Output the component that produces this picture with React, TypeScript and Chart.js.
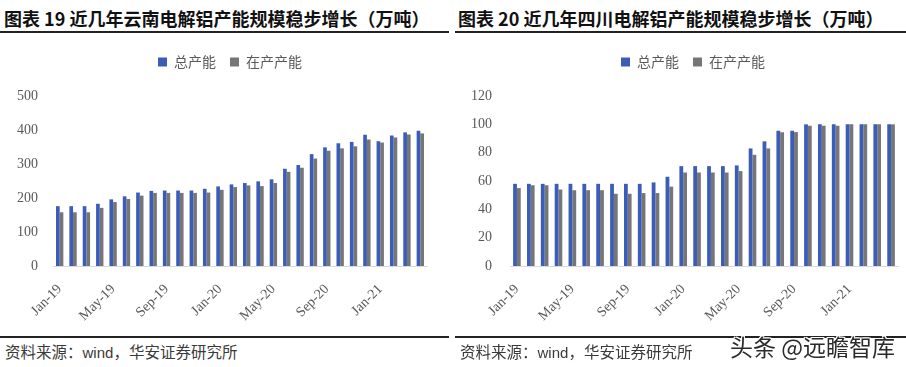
import React, { useEffect, useRef } from "react";
import { Chart, registerables } from "chart.js";
Chart.register(...registerables);

const months = [
  "Jan-19", "Feb-19", "Mar-19", "Apr-19", "May-19", "Jun-19", "Jul-19", "Aug-19", "Sep-19", "Oct-19", "Nov-19", "Dec-19",
  "Jan-20", "Feb-20", "Mar-20", "Apr-20", "May-20", "Jun-20", "Jul-20", "Aug-20", "Sep-20", "Oct-20", "Nov-20", "Dec-20",
  "Jan-21", "Feb-21", "Mar-21", "Apr-21",
];
const seriesNames = ["总产能", "在产产能"];

const yunnanTotal = [176, 176, 176, 183, 196, 205, 216, 221, 222, 222, 222, 227, 234, 240, 244, 249, 255, 286, 297, 329, 349, 361, 365, 386, 367, 384, 393, 398];
const yunnanOperating = [158, 158, 158, 171, 188, 197, 207, 215, 215, 215, 215, 216, 224, 232, 237, 235, 244, 277, 289, 316, 339, 346, 352, 372, 363, 378, 387, 390];
const yunnanMax = 500;
const yunnanStep = 100;

const sichuanTotal = [58, 58, 58, 58, 58, 58, 58, 58, 58, 58, 59, 63, 70.5, 70.5, 70.5, 70.5, 71, 83, 88, 95.5, 95.5, 100, 100, 100, 100, 100, 100, 100];
const sichuanOperating = [55, 57, 57, 54, 53.5, 53.5, 53.5, 51, 51, 51.5, 51.5, 56, 66, 66, 66, 66, 67, 78.5, 83, 94.5, 94.5, 99, 99, 99, 100, 100, 100, 100];
const sichuanMax = 120;
const sichuanStep = 20;

const titles = [
  "图表 19 近几年云南电解铝产能规模稳步增长（万吨）",
  "图表 20 近几年四川电解铝产能规模稳步增长（万吨）",
];
const sourceText = ["资料来源：", "wind", "，华安证券研究所"];
const watermark = "头条 @远瞻智库";

const BLUE = "#3B5DB8";
const GRAY = "#767676";
const TICK = "#595959";
const CJK = '"Noto Sans CJK SC", sans-serif';
const SERIF = '"Liberation Serif", serif';

type ChartProps = {
  left: number; top: number; width: number; height: number;
  total: number[]; operating: number[]; max: number; step: number;
  padL: number; padR: number; yWidth: number; yPad: number; rWidth: number;
};

function BarChart(p: ChartProps) {
  const ref = useRef<HTMLCanvasElement | null>(null);
  useEffect(() => {
    if (!ref.current) return;
    const chart = new Chart(ref.current, {
      type: "bar",
      data: {
        labels: months,
        datasets: [
          { label: seriesNames[0], data: p.total, backgroundColor: BLUE, categoryPercentage: 0.55, barPercentage: 1 },
          { label: seriesNames[1], data: p.operating, backgroundColor: GRAY, categoryPercentage: 0.55, barPercentage: 1 },
        ],
      },
      options: {
        responsive: false,
        animation: false,
        devicePixelRatio: 1,
        layout: { padding: { left: p.padL, right: p.padR, top: 1, bottom: 0 } },
        plugins: {
          tooltip: { enabled: false },
          legend: {
            display: true,
            position: "top",
            labels: {
              boxWidth: 9, boxHeight: 9, padding: 14, color: TICK,
              font: { family: CJK, size: 14 },
            },
          },
          title: {
            display: true, text: " ", position: "top", weight: 500,
            padding: 0, font: { size: 17, lineHeight: 1 },
          } as any,
        },
        scales: {
          x: {
            grid: { display: false, drawTicks: false },
            border: { display: true, color: "#d9d9d9", width: 1 },
            ticks: {
              autoSkip: false, minRotation: 45, maxRotation: 45, padding: 15,
              color: TICK, font: { family: SERIF, size: 14 },
              callback: (_v: any, i: number) => (i % 4 === 0 ? months[i] : ""),
            },
            afterFit: (s: any) => { s.height = 64; },
          },
          y: {
            min: 0, max: p.max,
            grid: { display: false, drawTicks: false },
            border: { display: false },
            ticks: { stepSize: p.step, padding: p.yPad, color: TICK, font: { family: SERIF, size: 14 } },
            afterFit: (s: any) => { s.width = p.yWidth; },
          },
          yRight: {
            position: "right",
            min: 0, max: p.max,
            grid: { display: false, drawTicks: false },
            border: { display: false },
            ticks: { display: false },
            afterFit: (s: any) => { s.width = p.rWidth; },
          },
        },
      } as any,
    });
    return () => chart.destroy();
  }, []);
  return (
    <canvas
      ref={ref}
      width={p.width}
      height={p.height}
      style={{ position: "absolute", left: p.left, top: p.top, width: p.width, height: p.height }}
    />
  );
}

function Source({ left }: { left: number }) {
  return (
    <div style={{ position: "absolute", left, top: 341, fontSize: 15.5, lineHeight: "20px", color: "#3a3a3a", fontFamily: CJK, whiteSpace: "nowrap" }}>
      {sourceText[0]}
      <span style={{ fontFamily: '"Liberation Sans", Arial, sans-serif', fontSize: 15 }}>{sourceText[1]}</span>
      {sourceText[2]}
    </div>
  );
}

export default function App() {
  const titleStyle: React.CSSProperties = {
    position: "absolute", top: 7, fontSize: 18, lineHeight: "22px", fontWeight: 700,
    fontFamily: CJK, color: "#111", whiteSpace: "nowrap",
  };
  return (
    <div style={{ position: "absolute", left: 0, top: 0, width: 906, height: 367, background: "#fff", overflow: "hidden" }}>
      <div style={{ ...titleStyle, left: 4 }}>{titles[0]}</div>
      <div style={{ ...titleStyle, left: 458 }}>{titles[1]}</div>
      <div style={{ position: "absolute", left: 0, top: 31, width: 449, height: 2, background: "#222" }} />
      <div style={{ position: "absolute", left: 455, top: 31, width: 451, height: 2, background: "#222" }} />
      <BarChart left={0} top={40} width={450} height={290} total={yunnanTotal} operating={yunnanOperating}
        max={yunnanMax} step={yunnanStep} padL={13} padR={3} yWidth={40} yPad={15} rWidth={20} />
      <BarChart left={450} top={40} width={476} height={290} total={sichuanTotal} operating={sichuanOperating}
        max={sichuanMax} step={sichuanStep} padL={20} padR={10} yWidth={40} yPad={18} rWidth={18} />
      <div style={{ position: "absolute", left: 0, top: 336, width: 449, height: 2, background: "#222" }} />
      <div style={{ position: "absolute", left: 455, top: 336, width: 451, height: 2, background: "#222" }} />
      <Source left={5} />
      <Source left={460} />
      <div style={{
        position: "absolute", left: 730, top: 333, fontSize: 23, lineHeight: "27px", fontFamily: CJK,
        color: "#2a2a2a", whiteSpace: "nowrap",
        textShadow: "1px 1px 0 #fff, -1px -1px 0 #fff, 1px -1px 0 #fff, -1px 1px 0 #fff",
      }}>{watermark}</div>
    </div>
  );
}
